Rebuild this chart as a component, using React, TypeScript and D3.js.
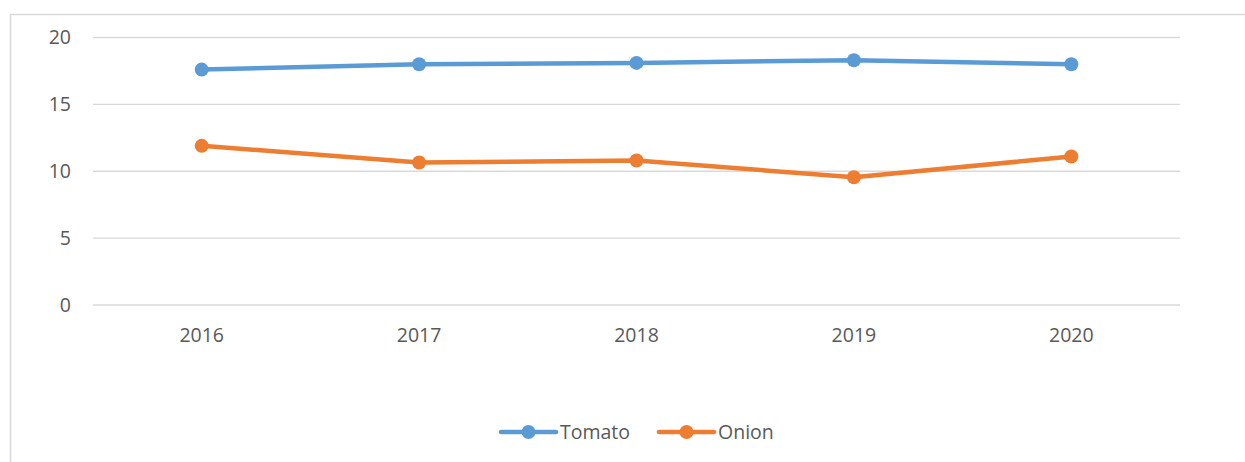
import React, { useEffect, useRef } from 'react';
import * as d3 from 'd3';

const years = ['2016', '2017', '2018', '2019', '2020'];
const tomato = [17.6, 18.0, 18.1, 18.3, 18.0];
const onion = [11.9, 10.65, 10.8, 9.55, 11.1];
const yTicks = [0, 5, 10, 15, 20];

const series = [
  { name: 'Tomato', values: tomato, color: '#5B9BD5' },
  { name: 'Onion', values: onion, color: '#ED7D31' },
];

export default function App() {
  const svgRef = useRef<SVGSVGElement>(null);

  useEffect(() => {
    if (!svgRef.current) return;
    const svg = d3.select(svgRef.current);
    svg.selectAll('*').remove();

    const W = 1245, H = 462;
    const left = 93, right = 1180, top = 37.5, bottom = 305;
    const font = "'Open Sans', 'Liberation Sans', sans-serif";
    const textColor = '#595959';
    const fs = '19.5px';

    // chart frame
    svg.append('rect')
      .attr('x', 10.5).attr('y', 14.5)
      .attr('width', W).attr('height', H)
      .attr('fill', '#fff')
      .attr('stroke', '#d9d9d9')
      .attr('stroke-width', 1.5);

    const x = d3.scaleBand().domain(years).range([left, right]);
    const y = d3.scaleLinear().domain([0, 20]).range([bottom, top]);

    // gridlines
    svg.append('g')
      .selectAll('line')
      .data(yTicks)
      .join('line')
      .attr('x1', left).attr('x2', right)
      .attr('y1', d => y(d)).attr('y2', d => y(d))
      .attr('stroke', '#d9d9d9')
      .attr('stroke-width', 1.3);

    // y labels
    svg.append('g')
      .selectAll('text')
      .data(yTicks)
      .join('text')
      .attr('x', 71)
      .attr('y', d => y(d))
      .attr('dy', '0.35em')
      .attr('text-anchor', 'end')
      .style('font-family', font)
      .style('font-size', fs)
      .style('fill', textColor)
      .text(d => String(d));

    // x labels
    svg.append('g')
      .selectAll('text')
      .data(years)
      .join('text')
      .attr('x', d => (x(d) || 0) + x.bandwidth() / 2)
      .attr('y', bottom + 30)
      .attr('dy', '0.35em')
      .attr('text-anchor', 'middle')
      .style('font-family', font)
      .style('font-size', fs)
      .style('fill', textColor)
      .text(d => d);

    const cx = (i: number) => (x(years[i]) || 0) + x.bandwidth() / 2;
    const line = d3.line<number>().x((_, i) => cx(i)).y(d => y(d));

    series.forEach(s => {
      svg.append('path')
        .datum(s.values)
        .attr('d', line)
        .attr('fill', 'none')
        .attr('stroke', s.color)
        .attr('stroke-width', 4.5)
        .attr('stroke-linejoin', 'round')
        .attr('stroke-linecap', 'round');
      svg.append('g')
        .selectAll('circle')
        .data(s.values)
        .join('circle')
        .attr('cx', (_, i) => cx(i))
        .attr('cy', d => y(d))
        .attr('r', 7)
        .attr('fill', s.color);
    });

    // legend
    const legendY = 432;
    const legendX = [501, 659];
    series.forEach((s, i) => {
      const g = svg.append('g').attr('transform', `translate(${legendX[i]},${legendY})`);
      g.append('line')
        .attr('x1', 0).attr('x2', 55)
        .attr('y1', 0).attr('y2', 0)
        .attr('stroke', s.color)
        .attr('stroke-width', 4.5)
        .attr('stroke-linecap', 'round');
      g.append('circle').attr('cx', 27.5).attr('cy', 0).attr('r', 7).attr('fill', s.color);
      g.append('text')
        .attr('x', 59).attr('y', 0).attr('dy', '0.35em')
        .style('font-family', font)
        .style('font-size', fs)
        .style('fill', textColor)
        .text(s.name);
    });
  }, []);

  return (
    <svg
      ref={svgRef}
      width={1245}
      height={462}
      style={{ position: 'absolute', left: 0, top: 0, background: '#fff' }}
    />
  );
}
